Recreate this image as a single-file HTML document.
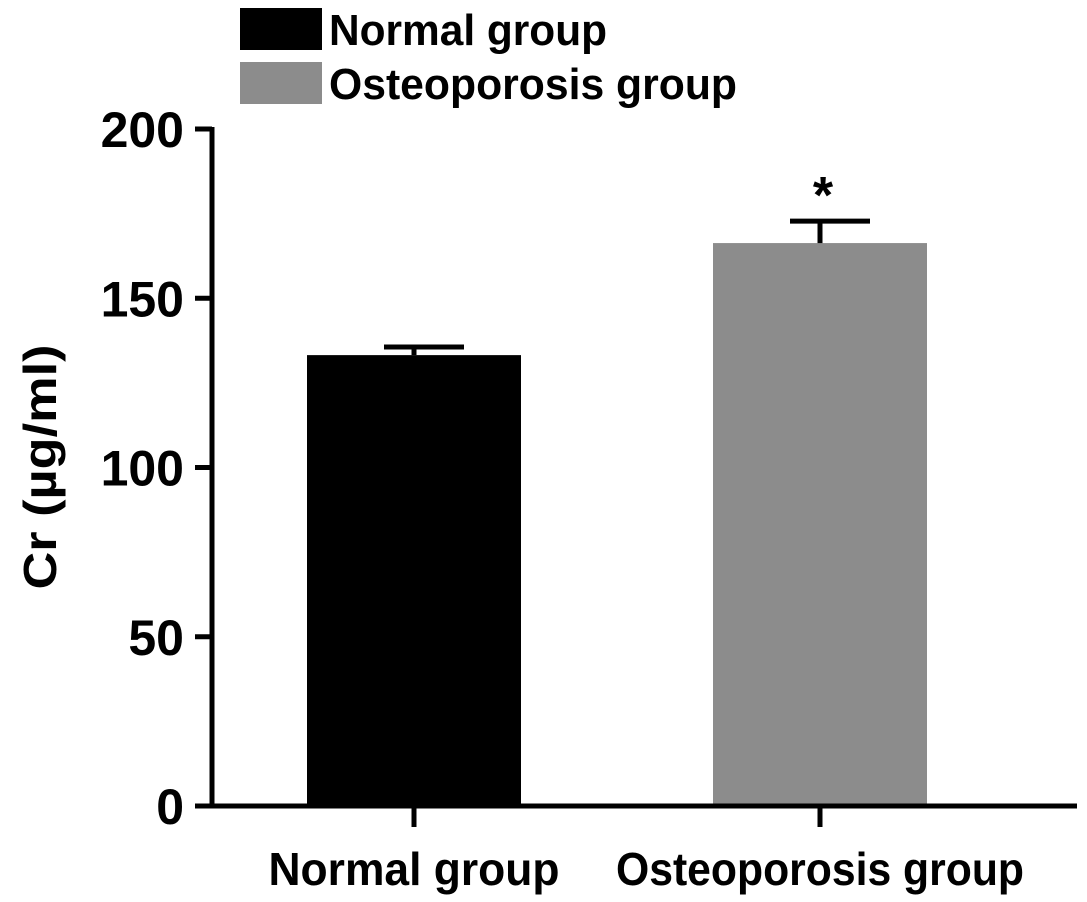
<!DOCTYPE html>
<html><head><meta charset="utf-8"><style>
html,body{margin:0;padding:0;background:#fff;}
svg{display:block;font-family:"Liberation Sans",Arial,sans-serif;font-weight:bold;}
</style></head><body>
<svg id="chart" width="1087" height="902" viewBox="0 0 1087 902"></svg>
<script>
const categories=["Normal group","Osteoporosis group"];
const values=[133.2,166.3];
const errors=[2.4,6.5];
const colors=["#000000","#8c8c8c"];
const yTicks=[0,50,100,150,200];
const sig=["","*"];
const NS="http://www.w3.org/2000/svg";
const svg=document.getElementById('chart');
const y0=806,y1=129,yMax=200;
const yS=v=>y0-(v/yMax)*(y0-y1);
const centers=[414,820];const bw=214;
function mk(t,a,p){const e=document.createElementNS(NS,t);for(const k in a)e.setAttribute(k,a[k]);(p||svg).appendChild(e);return e;}
categories.forEach((c,i)=>{
 const r=mk('rect',{x:240,y:8+i*54,width:82,height:42,fill:colors[i]});
 
 
 const t=mk('text',{x:329,y:45+i*54,'font-size':44,textLength:(i?408:278),lengthAdjust:'spacingAndGlyphs'});
 t.textContent=c;
 
 
});
categories.forEach((c,i)=>{
 const x=centers[i]-bw/2;
 const b=mk('rect',{x:x,y:yS(values[i]),width:bw,height:y0-yS(values[i]),fill:colors[i]});
 
 
 const ye=yS(values[i]+errors[i]);
 const e=mk('path',{d:`M${centers[i]} ${yS(values[i])} V${ye} M${centers[i]-30} ${ye} H${centers[i]+50}`,stroke:'#000','stroke-width':5,fill:'none'});
 
 
 if(sig[i]){const s=mk('text',{x:centers[i]+3,y:ye-8,'font-size':52,'text-anchor':'middle'});s.textContent=sig[i];
 
 }
 const tk=mk('line',{x1:centers[i],x2:centers[i],y1:y0,y2:827,stroke:'#000','stroke-width':5});
 
 
 const xl=mk('text',{x:centers[i],y:885,'font-size':46,'text-anchor':'middle',textLength:(i?408:291),lengthAdjust:'spacingAndGlyphs'});
 xl.textContent=c;
 
 
});
const ya=mk('line',{x1:212,x2:212,y1:127,y2:808,stroke:'#000','stroke-width':5});


const xa=mk('line',{x1:195,x2:1077,y1:y0,y2:y0,stroke:'#000','stroke-width':5});


yTicks.forEach(v=>{
 const l=mk('line',{x1:195,x2:212,y1:yS(v),y2:yS(v),stroke:'#000','stroke-width':5});
 
 
 const t=mk('text',{x:184,y:yS(v)+18,'font-size':50,'text-anchor':'end'});
 t.textContent=v;
 
 
});
const yt=mk('text',{x:0,y:0,'font-size':46,'text-anchor':'middle',textLength:245,lengthAdjust:'spacingAndGlyphs',transform:'translate(56,467) rotate(-90)'});
yt.textContent='Cr (µg/ml)';


</script>
</body></html>
